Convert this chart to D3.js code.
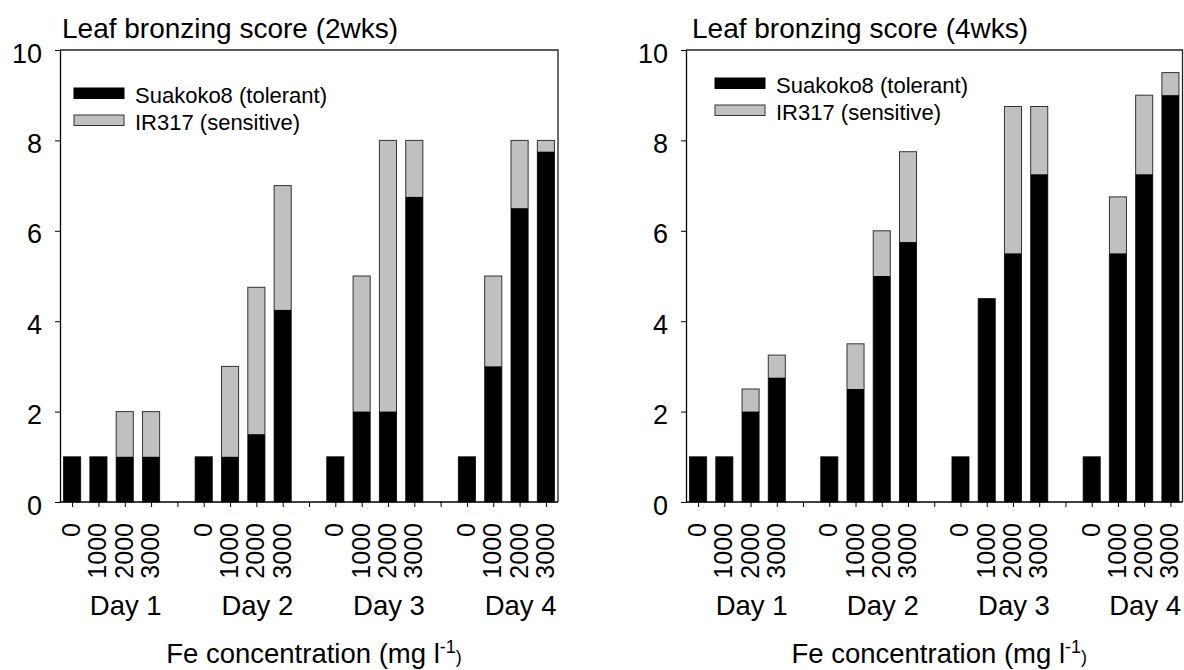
<!DOCTYPE html>
<html>
<head>
<meta charset="utf-8">
<script src="https://cdn.jsdelivr.net/npm/d3@7"></script>
<style>
  html, body { margin: 0; padding: 0; background: #fff; }
  svg { display: block; font-family: "Liberation Sans", Arial, sans-serif; }
</style>
</head>
<body>
<svg id="chart" width="1184" height="670"></svg>
<script>
// ---- data ----
const days = ["Day 1", "Day 2", "Day 3", "Day 4"];
const concentrations = ["0", "1000", "2000", "3000"];
const seriesNames = ["Suakoko8 (tolerant)", "IR317 (sensitive)"];
const yTicks = [0, 2, 4, 6, 8, 10];

// 2 weeks: values per day, per concentration
const suakoko2wks = [1, 1, 1, 1,   1, 1, 1.5, 4.25,   1, 2, 2, 6.75,   1, 3, 6.5, 7.75];
const ir317_2wks  = [1, 1, 2, 2,   1, 3, 4.75, 7,     1, 5, 8, 8,      1, 5, 8, 8];
// 4 weeks
const suakoko4wks = [1, 1, 2, 2.75,   1, 2.5, 5, 5.75,   1, 4.5, 5.5, 7.25,   1, 5.5, 7.25, 9];
const ir317_4wks  = [1, 1, 2.5, 3.25, 1, 3.5, 6, 7.75,   1, 4.5, 8.75, 8.75,  1, 6.75, 9, 9.5];

const panels = [
  { title: "Leaf bronzing score (2wks)", tol: suakoko2wks, sen: ir317_2wks,
    left: 60, right: 558, titleX: 62, legX: 74, legY: 88 },
  { title: "Leaf bronzing score (4wks)", tol: suakoko4wks, sen: ir317_4wks,
    left: 686, right: 1182.5, titleX: 692, legX: 715, legY: 78 }
];

const plotTop = 50, plotBottom = 502;
const svg = d3.select("#chart");

// slot keys: 4 bars + gap between groups
const slots = [];
days.forEach((d, di) => {
  concentrations.forEach((c, ci) => slots.push({ key: d + "|" + c, label: c, day: di, ci }));
  if (di < days.length - 1) slots.push({ key: "gap" + di, label: "", day: di, ci: -1 });
});

panels.forEach(p => {
  const g = svg.append("g");
  const x = d3.scalePoint().domain(slots.map(s => s.key)).range([p.left, p.right]).padding(0.46);
  const y = d3.scaleLinear().domain([0, 10]).range([plotBottom, plotTop]);
  const bw = x.step() * 0.65;

  const bars = [];
  slots.forEach(s => {
    if (s.ci < 0) return;
    const i = s.day * 4 + s.ci;
    bars.push({ key: s.key, tol: p.tol[i], sen: p.sen[i] });
  });

  // sensitive (grey) behind
  g.selectAll("rect.sen").data(bars).enter().append("rect")
    .attr("class", "sen")
    .attr("x", d => x(d.key) - bw / 2)
    .attr("width", bw)
    .attr("y", d => y(d.sen))
    .attr("height", d => y(0) - y(d.sen))
    .attr("fill", "#c0c0c0")
    .attr("stroke", "#333")
    .attr("stroke-width", 1);
  // tolerant (black) in front
  g.selectAll("rect.tol").data(bars).enter().append("rect")
    .attr("class", "tol")
    .attr("x", d => x(d.key) - bw / 2)
    .attr("width", bw)
    .attr("y", d => y(d.tol))
    .attr("height", d => y(0) - y(d.tol))
    .attr("fill", "#000");

  // frame (top and right)
  g.append("path")
    .attr("d", `M${p.left},${plotTop}H${p.right}V${plotBottom}`)
    .attr("fill", "none").attr("stroke", "#222").attr("stroke-width", 1.3);

  // y axis
  const yAxis = g.append("g").attr("transform", `translate(${p.left},0)`)
    .call(d3.axisLeft(y).tickValues(yTicks).tickSize(5).tickPadding(13).tickSizeOuter(0));
  yAxis.select(".domain").attr("stroke", "#000").attr("stroke-width", 1.3);
  yAxis.selectAll("text").attr("font-size", 27).attr("fill", "#000")
    .attr("font-family", "Liberation Sans, Arial, sans-serif").attr("dy", "0.45em");

  // x axis
  const xAxis = g.append("g").attr("transform", `translate(0,${plotBottom})`)
    .call(d3.axisBottom(x).tickSize(5).tickSizeOuter(0).tickFormat(() => ""));
  xAxis.select(".domain").attr("d", `M${p.left},0H${p.right}`).attr("stroke", "#000").attr("stroke-width", 1.3);

  // rotated concentration labels
  g.selectAll("text.conc").data(slots.filter(s => s.ci >= 0)).enter().append("text")
    .attr("class", "conc")
    .attr("transform", s => `translate(${x(s.key) + 8},523) rotate(-90)`)
    .attr("text-anchor", "end")
    .attr("font-size", 25)
    .text(s => s.label);

  // day labels
  g.selectAll("text.day").data(days).enter().append("text")
    .attr("class", "day")
    .attr("x", (d, di) => x(d + "|" + concentrations[2]) + 1)
    .attr("y", 615)
    .attr("text-anchor", "middle")
    .attr("font-size", 27.5)
    .text(d => d);

  // axis title
  const t = g.append("text")
    .attr("x", (p.left + p.right) / 2 + 5)
    .attr("y", 663)
    .attr("text-anchor", "middle")
    .attr("font-size", 27.5);
  t.append("tspan").text("Fe concentration (mg l");
  t.append("tspan").attr("font-size", 18).attr("dy", -10).text("-1");
  t.append("tspan").attr("font-size", 18).attr("dy", 10).text(")");

  // title
  g.append("text").attr("x", p.titleX).attr("y", 38).attr("font-size", 28).text(p.title);

  // legend
  const leg = g.append("g").attr("transform", `translate(${p.legX},${p.legY})`);
  const legFill = ["#000", "#c0c0c0"];
  const legStroke = ["#000", "#333"];
  seriesNames.forEach((n, i) => {
    leg.append("rect").attr("x", 0).attr("y", i * 27).attr("width", 50).attr("height", 10.5)
      .attr("fill", legFill[i]).attr("stroke", legStroke[i]).attr("stroke-width", 1);
    leg.append("text").attr("x", 61).attr("y", i * 27 + 14.5).attr("font-size", 22).text(n);
  });
});
</script>
</body>
</html>
